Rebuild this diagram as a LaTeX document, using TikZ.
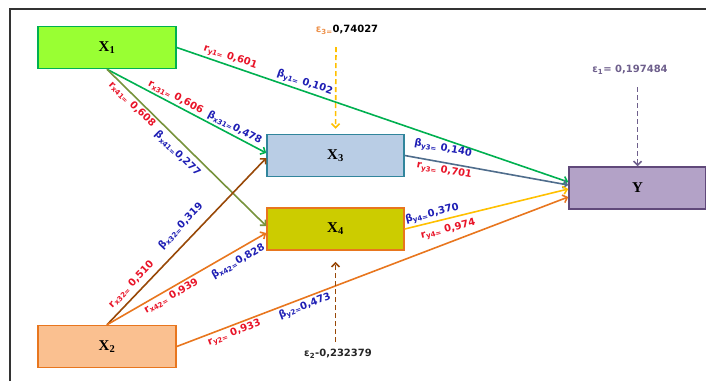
\documentclass[tikz,border=0pt]{standalone}
\usepackage{fontspec}
\setmainfont{Liberation Serif}
\newfontfamily\lblfont{DejaVu Sans}
\usetikzlibrary{arrows.meta}

\definecolor{cgreen}{RGB}{0,176,80}
\definecolor{colive}{RGB}{119,147,60}
\definecolor{cbrown}{RGB}{152,72,7}
\definecolor{corange}{RGB}{232,118,30}
\definecolor{cslate}{RGB}{79,109,140}
\definecolor{cyellow}{RGB}{255,192,0}
\definecolor{cpurple}{RGB}{110,95,140}
\definecolor{lblred}{RGB}{232,20,40}
\definecolor{lblblue}{RGB}{30,30,180}

\newcommand{\cf}[3]{#1\textsubscript{#2}#3}

\tikzset{
  box/.style={draw, line width=1.5pt, minimum width=138pt, minimum height=42pt,
    inner sep=0pt, font=\fontsize{15}{15}\selectfont\bfseries},
  rr/.style={sloped, text=lblred, inner sep=2pt,
    font=\lblfont\bfseries\fontsize{10}{10}\selectfont},
  bb/.style={rr, text=lblblue},
  link/.style={line width=1.6pt, ->},
  err/.style={line width=1.6pt, ->, dash pattern=on 5pt off 3pt},
  errtxt/.style={inner sep=1pt, font=\lblfont\bfseries\fontsize{10}{10}\selectfont}
}

\begin{document}
\begin{tikzpicture}[x=1pt, y=1pt, >={Straight Barb[length=4pt,width=8pt]}]
    \useasboundingbox (0,0) rectangle (706,-381);

    % 1. Khung
    \draw[line width=1.5pt, black!80] (10,-381) -- (10,-9) -- (706,-9);

    % 2. Các biến
    \node[box, fill={rgb,255:red,153;green,255;blue,51}, draw=cgreen] (x1) at (107,-47.5) {X\textsubscript{1}};
    \node[box, fill={rgb,255:red,250;green,192;blue,144}, draw=corange] (x2) at (107,-346.5) {X\textsubscript{2}};
    \node[box, minimum width=137pt, fill={rgb,255:red,185;green,205;blue,229}, draw={rgb,255:red,49;green,133;blue,156}] (x3) at (335.5,-155.5) {X\textsubscript{3}};
    \node[box, minimum width=137pt, fill={rgb,255:red,204;green,204;blue,0}, draw=corange] (x4) at (335.5,-229) {X\textsubscript{4}};
    \node[box, minimum width=137pt, fill={rgb,255:red,179;green,162;blue,199}, draw={rgb,255:red,96;green,73;blue,122}] (y) at (637.5,-188) {Y};

    % 3. Các đường tác động
    \draw[link, cgreen] (x1.east) -- ([yshift=6pt]y.west)
        node[rr, above, pos=0.13] {\cf{r}{y1=}{ 0,601}}
        node[bb, above, pos=0.32] {\cf{β}{y1=}{ 0,102}};
    \draw[link, cgreen] (x1.south) -- ([yshift=2.5pt]x3.west)
        node[rr, above, pos=0.41] {\cf{r}{x31=}{ 0,606}}
        node[bb, above, pos=0.78] {\cf{β}{x31=}{0,478}};
    \draw[link, colive] (x1.south) -- ([yshift=3pt]x4.west)
        node[rr, below, pos=0.19] {\cf{r}{x41=}{ 0,608}}
        node[bb, below=3pt, pos=0.49] {\cf{β}{x41=}{0,277}};
    \draw[link, cbrown] (x2.north) -- ([yshift=-2.5pt]x3.west)
        node[rr, above=3pt, pos=0.2] {\cf{r}{x32=}{ 0,510}}
        node[bb, above=7pt, pos=0.53] {\cf{β}{x32=}{0,319}};
    \draw[link, corange] (x2.north) -- ([yshift=-4pt]x4.west)
        node[rr, below, pos=0.38] {\cf{r}{x42=}{ 0,939}}
        node[bb, below=3pt, pos=0.79] {\cf{β}{x42=}{0,828}};
    \draw[link, corange] (x2.east) -- ([yshift=-9pt]y.west)
        node[rr, below, pos=0.14] {\cf{r}{y2=}{ 0,933}}
        node[bb, below, pos=0.32] {\cf{β}{y2=}{0,473}};
    \draw[link, cslate] (x3.east) -- ([yshift=3pt]y.west)
        node[bb, above=5pt, pos=0.22] {\cf{β}{y3=}{ 0,140}}
        node[rr, below, pos=0.25] {\cf{r}{y3=}{ 0,701}};
    \draw[link, cyellow] (x4.east) -- ([yshift=-1pt]y.west)
        node[bb, above, pos=0.18] {\cf{β}{y4=}{0,370}}
        node[rr, below=3pt, pos=0.25] {\cf{r}{y4=}{ 0,974}};

    % 4. Sai số
    \node[errtxt] (e3) at (347,-30) {\textcolor{corange!80}{ε\textsubscript{3=}}0,74027};
    \coordinate (e3s) at (336,-47);
    \draw[err, cyellow, shorten >=5pt] (e3s) -- (x3.north);

    \node[errtxt, text=cpurple] (e1) at (630,-70) {ε\textsubscript{1}= 0,197484};
    \coordinate (e1s) at (637.5,-87);
    \draw[err, cpurple] (e1s) -- (y.north);

    \node[errtxt, text=black!85] (e2) at (338,-354) {ε\textsubscript{2}-0,232379};
    \coordinate (e2s) at (335.5,-342);
    \draw[err, cbrown, shorten >=11pt] (e2s) -- (x4.south);
\end{tikzpicture}
\end{document}
